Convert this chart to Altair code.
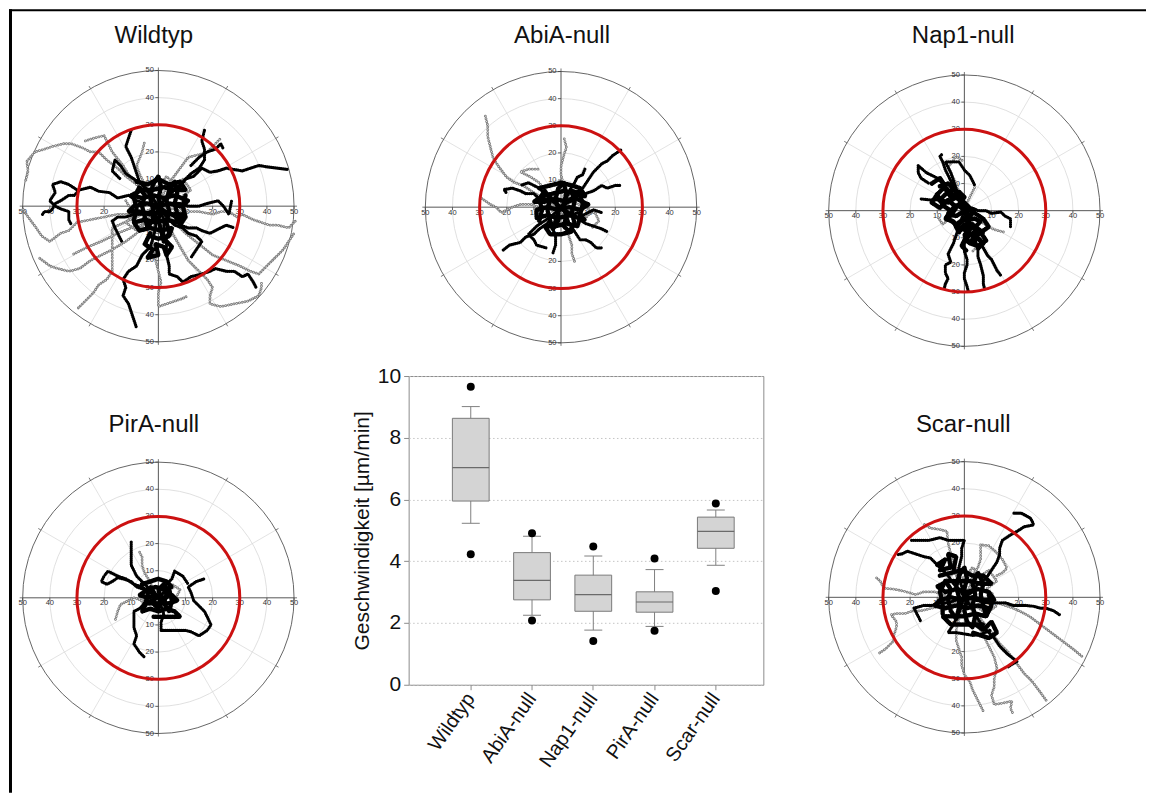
import altair as alt
import pandas as pd

FONT = "Liberation Sans"
PX = 2.716  # pixels per µm in every polar panel

# ---------------- box plot values (µm/min) ----------------
GROUPS = ["Wildtyp", "AbiA-null", "Nap1-null", "PirA-null", "Scar-null"]
WHISK_LO = [5.23, 2.25, 1.77, 1.89, 3.87]
Q1 = [5.95, 2.75, 2.38, 2.35, 4.42]
MEDIAN = [7.03, 3.38, 2.92, 2.68, 4.97]
Q3 = [8.63, 4.28, 3.55, 3.01, 5.43]
WHISK_HI = [9.01, 4.81, 4.17, 3.73, 5.66]
OUT_HI = [9.65, 4.91, 4.48, 4.09, 5.87]
OUT_LO = [4.23, 2.08, 1.42, 1.75, 3.04]
Y_TICKS = [0, 2, 4, 6, 8, 10]

# ---------------- polar grid ----------------
GRID_RADII = [10, 20, 30, 40]
OUTER_R = [50]
TARGET_R = [30]
SPOKE_ANGLES = [30, 60, 120, 150, 210, 240, 300, 330]
RIM_TICK_ANGLES = [0, 30, 60, 90, 120, 150, 180, 210, 240, 270, 300, 330]
AXIS_ANGLES = [0, 90]
AXIS_LABELS = [10, 20, 30, 40, 50]

# ---------------- cell tracks (µm): black arms, grey arms, dense black core ----------------
WILD_K = [
    [(0, 0), (3, 3), (5, 6), (8, 7), (10, 10), (13, 11), (16, 14), (19, 12.5), (22, 13), (25, 14), (28, 13.5),
     (31, 13), (34, 14), (37, 15), (40, 14.5), (44, 14), (48, 13.5)],
    [(0, 0), (-4, 1), (-8, 2), (-11, 4), (-15, 3), (-18, 5), (-22, 5.5), (-25, 7), (-29, 6), (-31, 4), (-33, 4),
     (-36, 2), (-38, 1), (-39, -1), (-40, -2), (-42, -2), (-43, -3.5)],
    [(-30, 6), (-33, 8), (-36, 9), (-39, 8), (-38, 5), (-40, 2), (-38, 0), (-36, -1), (-33, -2), (-33, -5), (-32, -7)],
    [(0, 0), (-1, -4), (-1, -8), (-2, -12), (-3, -15), (-6, -18), (-8, -22), (-11, -24), (-13, -27), (-12, -30),
     (-13, -33), (-11, -36), (-10, -39), (-9, -42), (-8, -45)],
    [(0, 0), (2, -5), (2, -10), (3, -14), (3, -18), (4, -22), (4, -25), (7, -26), (9, -28), (12, -26), (16, -25),
     (19, -24), (21, -23), (25, -24), (28, -24), (31, -26), (33, -25), (35, -28), (36, -30)],
    [(0, 0), (3, -2), (6, -4), (8, -7), (11, -8), (14, -8), (16, -9), (19, -10), (21, -9), (25, -7), (28, -8)],
    [(0, 0), (-2, 3), (-4, 6), (-7, 9), (-8, 12), (-9, 15), (-10, 18), (-12, 22), (-11, 25), (-10, 28)],
    [(0, 0), (-3, 4), (-6, 8), (-9, 10), (-12, 12), (-14, 15), (-16, 17), (-17, 13), (-14, 10)],
    [(0, 0), (3, 3), (6, 6), (9, 9), (12, 12), (15, 14), (17, 17), (17, 21), (16, 24), (17, 28)],
    [(12, 15), (15, 18), (18, 20), (21, 21), (23, 23), (24, 21)],
    [(0, 0), (4, 1), (8, 1), (11, 0), (15, 0), (18, 1), (22, 2), (24, 0), (26, -3), (27, 2)],
    [(0, 0), (3, -4), (6, -7), (9, -8), (11, -10), (14, -11), (16, -13), (14, -16), (12, -19)],
    [(0, 0), (-3, -2), (-6, -3), (-9, -3), (-12, -4), (-15, -4), (-17, -5.5), (-16, -8), (-15, -10), (-13.5, -13)],
]
WILD_C = [
    [(-8, 9), (-4, 8), (0, 10), (4, 8), (8, 9), (10, 6), (6, 6), (2, 7), (-2, 6), (-6, 6), (-10, 4), (-6, 3),
     (-2, 4), (2, 3), (6, 4), (11, 2), (8, 0), (4, 1), (0, 0), (-4, 1), (-9, 0), (-11, -2), (-7, -2), (-3, -3),
     (1, -2), (5, -3), (9, -3), (7, -6), (3, -5), (-1, -6), (-5, -5), (-9, -6), (-7, -9), (-3, -8), (1, -9),
     (5, -8), (4, -11), (0, -12), (-3, -11)],
    [(-9, -5), (-8, -1), (-9, 3), (-7, 7), (-5, 4), (-6, 0), (-5, -4), (-4, -8), (-2, -5), (-2, -1), (-3, 3),
     (-2, 8), (0, 11), (1, 7), (0, 3), (1, -1), (0, -5), (1, -9), (2, -13), (4, -10), (3, -6), (4, -2), (3, 2),
     (4, 6), (6, 9), (7, 5), (6, 1), (7, -3), (8, -7), (10, -4), (9, 0), (10, 4)],
    [(-3, -10), (-5, -14), (-2, -16), (-4, -19), (0, -18), (-1, -14), (2, -15), (3, -18), (5, -15), (2, -12)],
]
WILD_G = [
    [(0, 0), (-4, 4), (-8, 8), (-12, 11), (-15, 14), (-19, 17), (-22, 20), (-25, 20), (-28, 21.5), (-32, 23),
     (-35, 23), (-39, 22), (-42, 21), (-45.5, 20), (-48.5, 16.5), (-48, 13), (-49, 9)],
    [(0, 0), (-5, -2), (-10, -3), (-15, -3), (-20, -4), (-25, -5), (-30, -6), (-33, -9), (-36, -10), (-40, -13),
     (-43, -11), (-45, -8), (-48, -4), (-50, -1)],
    [(0, 0), (-4, -5), (-8, -10), (-12, -13), (-17, -16), (-21, -18), (-25, -20), (-29, -23), (-33, -24),
     (-37, -23), (-40, -22), (-44, -19)],
    [(-17, -24), (-19, -27), (-22, -29), (-24, -32), (-26, -34), (-29.5, -37.5)],
    [(0, 0), (5, -1), (10, -2), (15, -2), (20, -3), (23, -2), (26, -2), (29, -4), (31, -3), (35, -5), (38, -6),
     (41, -7), (44, -7), (48, -8), (50.5, -5.5)],
    [(0, 0), (5, -5), (10, -10), (15, -14), (20, -18), (25, -20), (30, -22), (34, -24), (37, -25), (40, -22),
     (43, -19), (46, -16), (48, -13), (50, -10)],
    [(0, 0), (4, -8), (8, -15), (11, -20), (15, -24), (18, -27), (20, -30), (19, -33), (19, -36), (23, -37),
     (28, -36), (33, -35), (37, -33), (38, -30), (38, -28)],
    [(0, 0), (-1, -5), (-2, -10), (-2, -15), (-1, -20), (0, -24), (1, -28), (0, -32), (0, -37), (3, -36),
     (6, -35), (9, -34), (11, -33)],
    [(0, 0), (-3, 4), (-5, 8), (-7, 12), (-8, 15), (-6, 20), (-5, 24)],
    [(0, 0), (-5, 5), (-10, 10), (-13, 15), (-17, 20), (-20, 26), (-24, 25), (-27, 24)],
    [(0, 0), (2, 5), (5, 10), (8, 14), (11, 18), (15, 19), (18, 20), (21, 23), (23, 25)],
    [(0, 0), (-5, -4), (-10, -8), (-15, -10), (-21, -13), (-26, -15), (-32, -18)],
    [(0, 0), (-8, -4), (-17, -8), (-17, -16), (-17, -24)],
    [(-7, 6), (-4, 9), (0, 7), (3, 11), (6, 8), (9, 10), (12, 6), (8, 3), (11, 0), (6, -2), (9, -5)],
    [(-12, 2), (-9, -3), (-12, -6), (-8, -9), (-5, -5), (-2, -2), (2, 1)],
]
ABIA_K = [
    [(0, 0), (3, 2), (5, 5), (8, 7), (10, 10), (12, 13), (15, 16), (17, 17), (19, 19), (22, 21)],
    [(0, 0), (3, 3), (6, 4), (9, 5), (12, 6), (15, 8), (17, 7), (20, 8), (22, 8)],
    [(0, 0), (-3, 2), (-5, 3), (-8, 3), (-10, 5), (-13, 5), (-15, 6), (-18, 7), (-21, 6.5), (-20, 5)],
    [(0, 0), (-3, -3), (-5, -6), (-8, -8), (-10, -10), (-13, -11), (-15, -13), (-19, -14), (-21.5, -16)],
    [(0, 0), (2, -3), (3, -6), (5, -9), (7, -12), (9, -12), (11, -13), (13, -15), (15, -15)],
    [(0, 0), (3, -2), (6, -4), (9, -6), (12, -7), (15, -8), (17, -9)],
    [(0, 0), (2, 3), (3, 6), (5, 9), (6, 11), (8, 12), (9, 14.5)],
    [(0, 0), (-2, -4), (-3, -8), (-2, -11), (-2, -14), (-3, -17)],
    [(0, 0), (-3, -3), (-6, -5), (-9, -7), (-12, -10), (-10, -12), (-9, -14), (-5.5, -15)],
    [(0, 0), (-2, 2), (-4, 4), (-6, 5), (-8, 7), (-12, 9), (-15, 8)],
    [(0, 0), (2, -2), (4, -3), (6, -2), (8, -3), (10, -2), (12, -1), (15, -2)],
]
ABIA_C = [
    [(-8, 7), (-4, 8), (0, 9), (4, 8), (7, 7), (9, 4), (5, 5), (1, 6), (-3, 5), (-7, 4), (-10, 2), (-6, 2),
     (-2, 3), (2, 2), (6, 3), (10, 1), (7, -1), (3, 0), (-1, -1), (-5, 0), (-9, -1), (-9, -4), (-5, -3),
     (-1, -4), (3, -3), (7, -4), (6, -7), (2, -6), (-2, -7), (-6, -7), (-4, -10), (0, -10), (4, -9)],
    [(-8, -5), (-7, -1), (-8, 3), (-6, 6), (-4, 3), (-5, -1), (-4, -5), (-3, -8), (-1, -5), (-1, -1), (-2, 3),
     (-1, 7), (1, 9), (2, 5), (1, 1), (2, -3), (1, -7), (3, -9), (5, -6), (4, -2), (5, 2), (4, 6), (7, 5),
     (8, 1), (7, -3), (9, -5)],
]
ABIA_G = [
    [(0, 0), (-4, 2), (-8, 4), (-11, 6), (-14, 8), (-17, 9), (-20, 11), (-23, 15), (-25, 18), (-26, 22),
     (-27, 26), (-27, 30), (-28, 34)],
    [(0, 0), (-4, 1), (-8, 0), (-11, 1), (-15, 1), (-18, 0), (-22, -2), (-24, 0), (-26, 1), (-29.5, 3.4)],
    [(0, 0), (1, -4), (2, -8), (3, -11), (4, -14), (4, -17), (5, -20)],
    [(0, 0), (1, 4), (1, 8), (0, 12), (0, 15), (1, 19), (2, 22), (1, 26)],
    [(0, 0), (-3, 3), (-6, 6), (-8, 9), (-11, 11), (-15, 13), (-12, 14), (-8, 14)],
    [(0, 0), (4, 2), (9, 0), (12, -2)],
    [(0, 0), (3, -2), (5, 2), (2, 6), (-2, 5), (-4, 0), (-2, -4)],
    [(5, -2), (9, -4), (12, -1), (14, -5), (11, -8)],
]
NAP1_K = [
    [(0, 0), (-1, -3), (-2, -6), (-3, -9), (-4, -12), (-6, -16), (-5, -19), (-7, -20), (-7, -23), (-6, -25),
     (-7, -27), (-7.5, -29)],
    [(0, 0), (1, -4), (1, -8), (0, -12), (0, -15), (1, -18), (1, -20), (0, -23), (0, -25), (1, -28), (1.5, -30)],
    [(0, 0), (1, -4), (2, -8), (4, -11), (5, -14), (5, -17), (6, -20), (7, -24), (7, -27), (7.5, -29)],
    [(0, 0), (2, -4), (4, -8), (6, -12), (8.6, -16.6), (10, -18), (11, -20), (12, -22), (13.5, -24)],
    [(0, 0), (-1, 3), (-3, 5), (-5, 7), (-7, 9), (-10, 12), (-12, 13), (-14, 14), (-17, 16.6), (-17, 14),
     (-16, 12), (-13, 10)],
    [(0, 0), (-1, 3), (-2, 6), (-4, 9), (-5, 11), (-6, 13), (-7, 15), (-8, 18), (-9, 20), (-8, 21)],
    [(0, 0), (-1, 4), (-3, 8), (-4, 11), (-5, 14), (-7, 18), (-4, 18), (-2, 18), (0, 15), (2, 13), (4, 9)],
    [(0, 0), (-3, 2), (-5, 3), (-8, 3), (-10, 4), (-13, 4), (-16, 4.3)],
    [(0, 0), (3, 1), (5, 0), (8, 0), (10, -1), (13.5, -0.5), (15, -2), (17, -3), (17, -6)],
]
NAP1_C = [
    [(-9, 9), (-6, 10), (-4, 8), (-7, 6), (-9, 4), (-6, 3), (-3, 5), (-1, 3), (-4, 1), (-6, -1), (-3, -2),
     (0, 0), (2, -2), (-1, -4), (-3, -6), (0, -7), (3, -5), (5, -7), (2, -9), (0, -11), (3, -12), (5, -10),
     (7, -12), (5, -14)],
    [(-7, 8), (-5, 5), (-2, 7), (0, 5), (-2, 2), (1, 1), (3, -1), (1, -3), (4, -3), (6, -4), (4, -6), (7, -8),
     (4, -9), (2, -12)],
    [(-10, 6), (-8, 2), (-5, 0), (-7, -3), (-4, -4), (-2, -8), (0, -5), (1, -9), (-1, -13), (1, -15)],
    [(-12, 10), (-9, 12), (-7, 9), (-10, 6), (-12, 3), (-9, 1), (-6, 4), (-3, 1), (-6, -3), (-3, -5), (0, -3),
     (3, -6), (0, -9), (2, -12), (5, -13), (8, -11), (6, -8), (9, -6), (7, -3), (4, -1), (1, 2), (-2, 5), (-4, 8)],
]
NAP1_G = [
    [(0, 0), (3, -2), (6, -4), (9, -6), (11, -7), (15, -8)],
    [(0, 0), (1, 3), (2, 5), (3, 7), (4, 9)],
    [(0, 0), (-1, 4), (-2, 7), (-3, 10), (-4, 12), (-6, 16), (-3, 20), (0, 18)],
    [(0, 0), (2, -3), (4, -6), (5, -9), (6, -12), (3, -15)],
    [(0, 0), (-4, -2), (-8, -5), (-10, -2)],
]
PIRA_K = [
    [(0, 0), (-2, 2), (-4, 4), (-6, 6), (-8, 8), (-9, 10), (-10, 12), (-10, 15), (-10, 17), (-10, 21)],
    [(0, 0), (-3, 2), (-5, 3), (-8, 4), (-10, 6), (-13, 7), (-15, 7.4), (-17, 6), (-19, 5), (-21, 6), (-20, 8)],
    [(0, 0), (-3, -1), (-5, -2), (-7, -4), (-9, -5), (-9, -8), (-9, -11), (-8, -14), (-9, -17), (-7, -20),
     (-5, -22)],
    [(0, 0), (1, -3), (2, -6), (1, -9), (1, -12), (4, -12), (7, -12), (10, -12), (12, -12.5), (15, -14),
     (18, -12), (19.4, -10), (18, -7), (17, -5), (15, -3), (13, -1), (12, 2), (11, 4), (14, 6), (17, 7)],
    [(0, 0), (2, 2), (3, 5), (5, 7), (6, 9.8), (9, 8), (11, 5)],
    [(0, 0), (-3, 2), (-6, 4), (-9, 5), (-12, 7), (-15, 8), (-18.6, 9.8), (-20, 8)],
]
PIRA_C = [
    [(-6, 5), (-3, 6), (0, 7), (3, 6), (5, 4), (2, 3), (-1, 4), (-4, 3), (-7, 1), (-4, 0), (-1, 1), (2, 0),
     (5, 1), (7, -1), (4, -2), (1, -2), (-2, -2), (-5, -2), (-6, -5), (-3, -4), (0, -5), (3, -4), (6, -5),
     (8, -7), (4, -7), (1, -7), (-2, -7)],
    [(-5, -3), (-4, 1), (-3, 4), (-1, 1), (-2, -2), (0, -4), (1, 0), (0, 3), (2, 5), (3, 1), (2, -2), (4, -5),
     (5, -1), (4, 3)],
]
PIRA_G = [
    [(0, 0), (-2, 3), (-3, 6), (-5, 9), (-6, 12), (-6, 15), (-7, 17)],
    [(0, 0), (-3, 0), (-6, -1), (-9, 0), (-11, -1), (-14, -2.5), (-15, -5), (-16, -8.6)],
    [(0, 0), (3, 2), (6, -1), (8, 3), (5, 5)],
    [(0, 0), (-2, -2), (-5, -3), (-7, 0)],
]
SCAR_K = [
    [(0, 0), (3, 2), (5, 5), (8, 7), (10, 10), (12, 13), (13, 15.7), (13, 18), (14, 21), (17, 23), (19.4, 24.3),
     (22, 26), (25.5, 26.7), (25, 28), (24.3, 29.2), (21, 31), (18.2, 31)],
    [(0, 0), (-1, 4), (-2, 8), (-2, 11), (-1, 15), (-1, 18), (0, 21), (-3, 21), (-6, 21), (-9, 22), (-13, 21),
     (-16, 21), (-20, 21)],
    [(0, 0), (-2, 3), (-4, 5), (-6, 8), (-8, 10), (-10, 12), (-12.5, 14.5), (-15, 15), (-18, 16), (-21, 17),
     (-23, 16), (-24.8, 15.7)],
    [(0, 0), (4, -1), (8, -2), (11, -2), (15, -2), (18, -3), (20, -3), (23, -3), (25.5, -3.3), (28, -4), (30, -4),
     (33, -5), (35, -6.4)],
    [(0, 0), (3, -4), (5, -8), (7, -11), (9, -13), (11, -15), (13, -18), (16, -21), (19.4, -23.6), (17, -25),
     (15.7, -26)],
    [(0, 0), (-1, -3), (-2, -6), (-4, -10), (-6, -13), (-3, -13), (0, -13.5), (3, -14), (6, -13.7), (10, -12)],
    [(0, 0), (-3, -1), (-6, -2), (-9, -2), (-12, -3), (-15, -3), (-18.6, -4), (-17, -7), (-16, -9)],
]
SCAR_C = [
    [(-9, 8), (-5, 9), (-1, 10), (3, 8), (7, 8), (10, 5), (6, 5), (2, 6), (-2, 6), (-6, 6), (-10, 4), (-7, 2),
     (-3, 3), (1, 2), (5, 3), (9, 2), (11, -1), (7, -1), (3, 0), (-1, -1), (-5, 0), (-9, -1), (-11, -3),
     (-7, -4), (-3, -3), (1, -4), (5, -3), (9, -4), (8, -7), (4, -6), (0, -7), (-4, -7), (-8, -7), (-5, -10),
     (-1, -10), (3, -10), (7, -10)],
    [(-8, -6), (-8, -2), (-9, 2), (-7, 6), (-5, 3), (-6, -1), (-5, -5), (-3, -8), (-2, -4), (-2, 0), (-3, 4),
     (-2, 8), (0, 11), (1, 7), (0, 3), (1, -1), (0, -5), (1, -9), (3, -11), (4, -7), (3, -3), (4, 1), (3, 5),
     (5, 9), (7, 5), (6, 1), (7, -3), (8, -7), (10, -3), (9, 1)],
    [(-10, 12), (-7, 14), (-9, 10), (-5, 11), (-6, 16), (-3, 15), (-4, 10)],
    [(4, -10), (7, -12), (10, -9), (12, -13), (9, -15), (6, -14), (3, -13)],
]
SCAR_G = [
    [(0, 0), (-1, 4), (-3, 8), (-4, 12), (-5, 16), (-6, 20), (-6.4, 24.3), (-9, 25), (-12.5, 25.5), (-15, 27)],
    [(0, 0), (-4, 0), (-8, 1), (-11, 2), (-15, 2), (-18, 1), (-22, 2.2), (-26, 3), (-29.7, 3.4), (-31, 6),
     (-33, 7.7)],
    [(0, 0), (-4, -2), (-8, -3), (-12, -4), (-16, -5), (-19, -5), (-22, -6), (-25, -6), (-27, -6.4), (-25, -9),
     (-25, -11), (-26, -14), (-26, -16), (-29, -19), (-32, -21)],
    [(0, 0), (-1, -4), (-2, -8), (-3, -12), (-3, -16), (-2, -19), (-1, -22), (-1, -25), (0, -28.5), (2, -31),
     (3, -34), (4, -36), (5, -38), (6, -40), (7, -42)],
    [(0, 0), (3, -5), (5, -10), (7, -14), (9, -18), (11, -22), (12, -26), (11, -30), (11, -33), (10, -36),
     (11, -39.5), (14, -39), (17.5, -38.3), (17, -41), (18, -43)],
    [(0, 0), (3, -4), (6, -8), (10, -13), (13, -17), (16, -20), (19, -24), (22, -28), (25, -31), (28, -35),
     (30.4, -38.3)],
    [(0, 0), (4, 0), (8, -1), (12, -2), (15, -3), (18, -4), (20.6, -5.2), (24, -7), (28, -10), (32, -13),
     (36, -16), (40, -19), (44, -22.3)],
    [(0, 0), (2, 4), (3, 8), (5, 11), (6, 14), (6, 17), (6, 19.4), (9, 19), (11.4, 17), (14, 14), (15.7, 10.8),
     (14, 9), (12, 8)],
    [(0, 0), (4, -3), (8, -6), (12, -3), (10, 2)],
    [(-7, 6), (-4, 9), (0, 7), (3, 11), (6, 8), (9, 10), (12, 6), (8, 3), (11, 0), (6, -2), (9, -5)],
]

# ---------------- layout (page pixels) ----------------
COL_L = [21, 408, 783]
COL_W = [367, 355, 317]
ROW_T = [68, 375]
ROW_H = [280, 361]


def tracks_df(tracks):
    rows = []
    for i, t in enumerate(tracks):
        for j, (x, y) in enumerate(t):
            rows.append({"track": i, "seq": j, "x": x, "y": y})
    return pd.DataFrame(rows)


def polar_panel(name, k_tracks, c_tracks, g_tracks, col, row, cx, cy, title_x, title_base, frame=False):
    xdom = [-(cx - COL_L[col]) / PX, (COL_L[col] + COL_W[col] - cx) / PX]
    ydom = [-(ROW_T[row] + ROW_H[row] - cy) / PX, (cy - ROW_T[row]) / PX]
    xs = alt.Scale(domain=xdom, nice=False, zero=False)
    ys = alt.Scale(domain=ydom, nice=False, zero=False)

    def X(f):
        return alt.X(f, type="quantitative", scale=xs, axis=None)

    def Y(f):
        return alt.Y(f, type="quantitative", scale=ys, axis=None)

    def rings(radii, color, width):
        return alt.Chart(pd.DataFrame({"r": radii})).transform_calculate(
            c="0", s=f"pow(2*datum.r*{PX}, 2)"
        ).mark_point(shape="circle", filled=False, stroke=color, strokeWidth=width, opacity=1).encode(
            x=X("c"), y=Y("c"), size=alt.Size("s:Q", scale=None, legend=None)
        )

    def track_line(df, color, width, dash):
        return alt.Chart(df).mark_line(color=color, strokeWidth=width, strokeDash=dash,
                                       strokeCap="round", strokeJoin="round").encode(
            x=X("x"), y=Y("y"), detail="track:N", order="seq:Q")

    spokes = alt.Chart(pd.DataFrame({"a": SPOKE_ANGLES})).transform_calculate(
        c="0", ex=f"{OUTER_R[0]}*cos(datum.a*PI/180)", ey=f"{OUTER_R[0]}*sin(datum.a*PI/180)"
    ).mark_rule(color="#dcdcdc", strokeWidth=0.8).encode(x=X("c"), y=Y("c"), x2=alt.X2("ex"), y2=alt.Y2("ey"))

    rim_ticks = alt.Chart(pd.DataFrame({"a": RIM_TICK_ANGLES})).transform_calculate(
        x1=f"{OUTER_R[0]}*cos(datum.a*PI/180)", y1=f"{OUTER_R[0]}*sin(datum.a*PI/180)",
        x2=f"({OUTER_R[0]}+{3 / PX})*cos(datum.a*PI/180)", y2=f"({OUTER_R[0]}+{3 / PX})*sin(datum.a*PI/180)"
    ).mark_rule(color="#555555", strokeWidth=0.8).encode(x=X("x1"), y=Y("y1"), x2=alt.X2("x2"), y2=alt.Y2("y2"))

    axes = alt.Chart(pd.DataFrame({"a": AXIS_ANGLES})).transform_calculate(
        x1=f"-{OUTER_R[0]}*cos(datum.a*PI/180)", y1=f"-{OUTER_R[0]}*sin(datum.a*PI/180)",
        x2=f"{OUTER_R[0]}*cos(datum.a*PI/180)", y2=f"{OUTER_R[0]}*sin(datum.a*PI/180)"
    ).mark_rule(color="#444444", strokeWidth=0.9).encode(x=X("x1"), y=Y("y1"), x2=alt.X2("x2"), y2=alt.Y2("y2"))

    vals = pd.DataFrame({"v": [s * v for s in (-1, 1) for v in AXIS_LABELS]})
    tick_len = 3 / PX
    hticks = alt.Chart(vals).transform_calculate(c="0", t=f"-{tick_len}").mark_rule(
        color="#444444", strokeWidth=0.8).encode(x=X("v"), y=Y("c"), y2=alt.Y2("t"))
    vticks = alt.Chart(vals).transform_calculate(c="0", t=f"-{tick_len}").mark_rule(
        color="#444444", strokeWidth=0.8).encode(y=Y("v"), x=X("c"), x2=alt.X2("t"))
    hlabels = alt.Chart(vals).transform_calculate(c="0", lab="abs(datum.v)").mark_text(
        font=FONT, fontSize=7.5, color="#333333", baseline="top", dy=1.5).encode(
        x=X("v"), y=Y("c"), text="lab:N")
    vlabels = alt.Chart(vals).transform_calculate(c="0", lab="abs(datum.v)").mark_text(
        font=FONT, fontSize=7.5, color="#333333", align="right", baseline="middle", dx=-4.5).encode(
        y=Y("v"), x=X("c"), text="lab:N")

    gdf = tracks_df(g_tracks)
    kdf = tracks_df(k_tracks)
    cdf = tracks_df(c_tracks)
    g_outer = track_line(gdf, "#7c7c7c", 2.8, [0.1, 2.7])
    g_inner = track_line(gdf, "#ffffff", 1.0, [0.1, 2.7])
    k_line = track_line(kdf, "#000000", 3.2, [0.1, 1.9])
    c_line = track_line(cdf, "#000000", 4.6, [0.1, 1.6])

    title = alt.Chart(pd.DataFrame({"t": [name]})).mark_text(
        font=FONT, fontSize=24, color="#111111", align="center", baseline="alphabetic").encode(
        text="t:N", x=alt.value(title_x - COL_L[col]), y=alt.value(title_base - ROW_T[row]))

    layers = [rings(GRID_RADII, "#d8d8d8", 0.8), spokes, rings(OUTER_R, "#555555", 0.9), rim_ticks,
              axes, hticks, vticks, hlabels, vlabels, g_outer, g_inner, k_line, c_line,
              rings(TARGET_R, "#cc1111", 3.0), title]
    if frame:
        fdf = pd.DataFrame({"f": [0]})
        left_bar = alt.Chart(fdf).mark_rect(color="#000000").encode(
            x=alt.value(8 - COL_L[col]), x2=alt.value(11 - COL_L[col]),
            y=alt.value(8 - ROW_T[row]), y2=alt.value(792 - ROW_T[row]))
        top_bar = alt.Chart(fdf).mark_rect(color="#000000").encode(
            x=alt.value(8 - COL_L[col]), x2=alt.value(1146 - COL_L[col]),
            y=alt.value(8 - ROW_T[row]), y2=alt.value(10 - ROW_T[row]))
        layers += [left_bar, top_bar]
    return alt.layer(*layers).properties(width=COL_W[col], height=ROW_H[row])


wild = polar_panel("Wildtyp", WILD_K, WILD_C, WILD_G, 0, 0, 157.5, 205, 153, 41.5, frame=True)
abia = polar_panel("AbiA-null", ABIA_K, ABIA_C, ABIA_G, 1, 0, 560.5, 206, 561.5, 41.5)
nap1 = polar_panel("Nap1-null", NAP1_K, NAP1_C, NAP1_G, 2, 0, 964.2, 209.5, 963, 41.5)
pira = polar_panel("PirA-null", PIRA_K, PIRA_C, PIRA_G, 0, 1, 157.5, 597, 153, 431)
scar = polar_panel("Scar-null", SCAR_K, SCAR_C, SCAR_G, 2, 1, 964.2, 596.5, 963, 431)

# ---------------- box plot ----------------
box_df = pd.DataFrame({"g": GROUPS, "lo": WHISK_LO, "q1": Q1, "med": MEDIAN, "q3": Q3, "hi": WHISK_HI})
out_df = pd.DataFrame({"g": GROUPS * 2, "v": OUT_HI + OUT_LO})
cap_df = pd.DataFrame({"g": GROUPS * 2, "v": WHISK_LO + WHISK_HI})

xsc = alt.Scale(domain=GROUPS, paddingInner=0.4, paddingOuter=0.595, align=0.6)
ysc = alt.Scale(domain=[0, 10], nice=False, zero=True)
x_enc = alt.X("g:N", scale=xsc, sort=GROUPS, axis=alt.Axis(
    title=None, labelAngle=305, labelAlign="right", labelBaseline="middle", labelFontSize=20,
    labelFont=FONT, labelColor="#111111", tickColor="#8c8c8c", tickSize=5, domain=False,
    labelPadding=5, grid=False))
y_axis = alt.Axis(title="Geschwindigkeit [µm/min]", values=Y_TICKS, grid=True, gridDash=[1.5, 2.5],
                  gridColor="#c4c4c4", labelFontSize=21, labelFont=FONT, labelColor="#111111",
                  titleFont=FONT, titleFontSize=21, titleFontWeight="normal", titleColor="#111111",
                  tickColor="#8c8c8c", tickSize=5, domain=False, labelPadding=3, titlePadding=5)

whisk = alt.Chart(box_df).mark_rule(color="#808080", strokeWidth=1).encode(
    x=x_enc, y=alt.Y("lo:Q", scale=ysc, axis=y_axis), y2=alt.Y2("hi"))
boxes = alt.Chart(box_df).mark_bar(fill="#d4d4d4", stroke="#7a7a7a", strokeWidth=1).encode(
    x=x_enc, y=alt.Y("q1:Q", scale=ysc), y2=alt.Y2("q3"))
med = alt.Chart(box_df).mark_tick(color="#6a6a6a", thickness=1.2, size=36.8, opacity=1).encode(
    x=x_enc, y=alt.Y("med:Q", scale=ysc))
caps = alt.Chart(cap_df).mark_tick(color="#808080", thickness=1, size=18, opacity=1).encode(
    x=x_enc, y=alt.Y("v:Q", scale=ysc))
outs = alt.Chart(out_df).mark_circle(color="#000000", size=64, opacity=1).encode(
    x=x_enc, y=alt.Y("v:Q", scale=ysc))

box = alt.layer(whisk, boxes, med, caps, outs).properties(
    width=COL_W[1], height=309, view=alt.ViewBackground(stroke="#8c8c8c", strokeWidth=1))

chart = alt.concat(wild, abia, nap1, pira, box, scar, columns=3,
                   spacing={"row": 27, "column": 20}, align="each", bounds="flush").properties(
    padding={"left": 0, "top": 0, "right": 0, "bottom": 0}, background="#ffffff"
).configure_view(stroke="transparent")

chart.save("out.html", embed_options={"renderer": "svg", "actions": False})
